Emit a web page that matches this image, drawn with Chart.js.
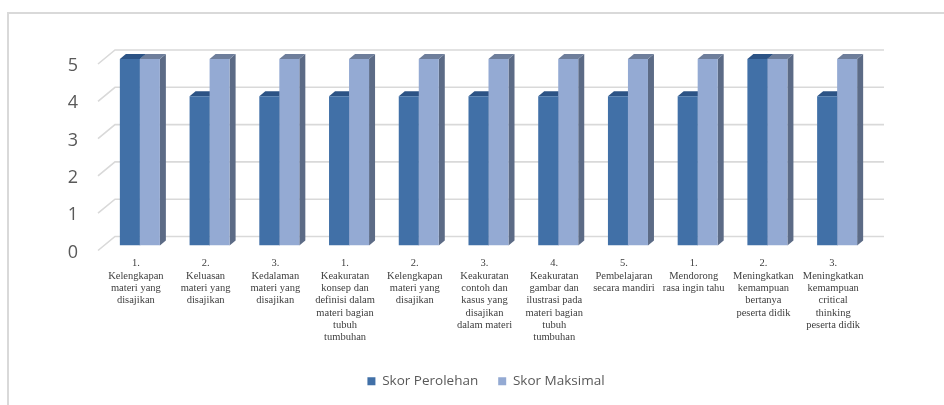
<!DOCTYPE html>
<html><head><meta charset="utf-8">
<script src="https://cdn.jsdelivr.net/npm/chart.js@4"></script>
<style>
html,body{margin:0;padding:0;overflow:hidden;background:#fff;width:944px;height:405px}
#frame{position:absolute;left:7px;top:12px;width:1000px;height:500px;border:2px solid #d9d9d9;box-sizing:border-box}
#wrap{position:absolute;left:0;top:0;width:972px;height:405px}
</style></head><body>
<div id="frame"></div>
<div id="wrap"><canvas id="c" width="972" height="405"></canvas></div>
<script>
const categories = [
  ["1.", "Kelengkapan", "materi yang", "disajikan"],
  ["2.", "Keluasan", "materi yang", "disajikan"],
  ["3.", "Kedalaman", "materi yang", "disajikan"],
  ["1.", "Keakuratan", "konsep dan", "definisi dalam", "materi bagian", "tubuh", "tumbuhan"],
  ["2.", "Kelengkapan", "materi yang", "disajikan"],
  ["3.", "Keakuratan", "contoh dan", "kasus yang", "disajikan", "dalam materi"],
  ["4.", "Keakuratan", "gambar dan", "ilustrasi pada", "materi bagian", "tubuh", "tumbuhan"],
  ["5.", "Pembelajaran", "secara mandiri"],
  ["1.", "Mendorong", "rasa ingin tahu"],
  ["2.", "Meningkatkan", "kemampuan", "bertanya", "peserta didik"],
  ["3.", "Meningkatkan", "kemampuan", "critical", "thinking", "peserta didik"]
];
const seriesNames = ["Skor Perolehan", "Skor Maksimal"];
const skorPerolehan = [5, 4, 4, 4, 4, 4, 4, 4, 4, 5, 4];
const skorMaksimal = [5, 5, 5, 5, 5, 5, 5, 5, 5, 5, 5];
const yTicks = [0, 1, 2, 3, 4, 5];

const depthPlugin = {
  id: 'depth3d',
  beforeDatasetsDraw(chart) {
    const ctx = chart.ctx, ys = chart.scales.y, area = chart.chartArea;
    ctx.save();
    ctx.strokeStyle = '#d9d9d9';
    ctx.lineWidth = 1.6;
    ys.ticks.forEach(t => {
      const p = ys.getPixelForValue(t.value);
      ctx.beginPath();
      ctx.moveTo(area.left - 7, p + 5);
      ctx.lineTo(area.left + 10, p - 9);
      ctx.lineTo(area.right + 12, p - 9);
      ctx.stroke();
    });
    const dx = 6, dy = 5;
    chart.data.datasets.forEach((ds, i) => {
      const meta = chart.getDatasetMeta(i);
      meta.data.forEach(bar => {
        const p = bar.getProps(['x', 'y', 'base', 'width'], true);
        const l = p.x - p.width / 2, r = p.x + p.width / 2, top = p.y, base = p.base;
        ctx.fillStyle = ds.sideColor;
        ctx.beginPath();
        ctx.moveTo(r, top); ctx.lineTo(r + dx, top - dy); ctx.lineTo(r + dx, base - dy); ctx.lineTo(r, base);
        ctx.closePath(); ctx.fill();
        ctx.fillStyle = ds.topColor;
        ctx.beginPath();
        ctx.moveTo(l, top); ctx.lineTo(l + dx, top - dy); ctx.lineTo(r + dx, top - dy); ctx.lineTo(r, top);
        ctx.closePath(); ctx.fill();
      });
    });
    ctx.restore();
  }
};

new Chart(document.getElementById('c'), {
  type: 'bar',
  data: {
    labels: categories,
    datasets: [
      { label: seriesNames[0], data: skorPerolehan, backgroundColor: '#4170a7', sideColor: '#34557f', topColor: '#2c5385', borderWidth: 0 },
      { label: seriesNames[1], data: skorMaksimal, backgroundColor: '#94aad3', sideColor: '#5c6b86', topColor: '#6e7e9b', borderWidth: 0 }
    ]
  },
  options: {
    responsive: false,
    animation: false,
    layout: { padding: { left: 0, right: 0, top: 59, bottom: 7 } },
    datasets: { bar: { categoryPercentage: 0.574, barPercentage: 1.0 } },
    plugins: {
      legend: {
        position: 'bottom',
        labels: {
          boxWidth: 8, boxHeight: 8, padding: 20,
          color: '#595959',
          font: { family: "'Open Sans', sans-serif", size: 13.5 }
        }
      },
      tooltip: { enabled: false }
    },
    scales: {
      x: {
        grid: { display: false },
        border: { display: false },
        ticks: {
          autoSkip: false, maxRotation: 0, minRotation: 0,
          padding: 4,
          labelOffset: -4,
          color: '#404040',
          font: { family: "'Liberation Serif', 'Times New Roman', serif", size: 10.5, lineHeight: 1.17 }
        },
        afterFit(scale) { scale.height = 109; }
      },
      y: {
        min: 0, max: 5,
        afterBuildTicks(scale) { scale.ticks = yTicks.map(v => ({ value: v })); },
        grid: { display: false },
        border: { display: false },
        ticks: {
          padding: 19,
          labelOffset: 7,
          color: '#595959',
          font: { family: "'Open Sans', sans-serif", size: 18 }
        },
        afterFit(scale) { scale.width = 105; }
      },
      spacer: {
        type: 'linear',
        position: 'right',
        min: 0, max: 1,
        grid: { display: false },
        border: { display: false },
        ticks: { display: false },
        afterFit(scale) { scale.width = 100; }
      }
    }
  },
  plugins: [depthPlugin]
});
</script>
</body></html>
